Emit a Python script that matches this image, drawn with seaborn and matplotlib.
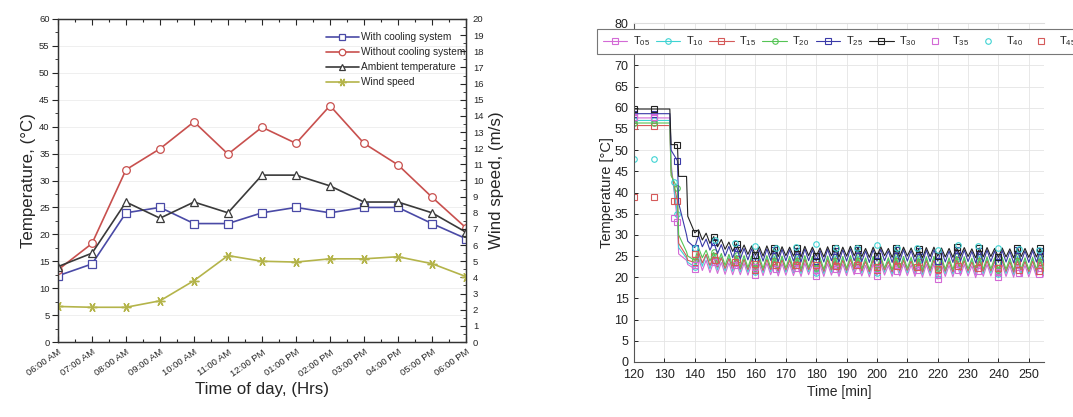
import numpy as np
import matplotlib
matplotlib.use("Agg")
import matplotlib.pyplot as plt
import seaborn as sns
from matplotlib.ticker import MultipleLocator

# ---------------- left panel data ----------------
times = ['06:00 AM', '07:00 AM', '08:00 AM', '09:00 AM', '10:00 AM', '11:00 AM', '12:00 PM',
         '01:00 PM', '02:00 PM', '03:00 PM', '04:00 PM', '05:00 PM', '06:00 PM']
with_cooling = [12.3, 14.5, 24.0, 25.0, 22.0, 22.0, 24.0, 25.0, 24.0, 25.0, 25.0, 22.0, 19.2]
without_cooling = [13.4, 18.3, 32.0, 35.9, 40.9, 34.9, 39.9, 36.9, 43.9, 36.9, 32.9, 26.9, 21.2]
ambient = [14.0, 16.5, 26.0, 23.0, 26.0, 24.0, 31.0, 31.0, 29.0, 26.0, 26.0, 24.0, 20.4]
wind = [2.2, 2.15, 2.15, 2.55, 3.8, 5.35, 5.0, 4.95, 5.15, 5.15, 5.28, 4.85, 4.05]

# ---------------- right panel data ----------------
t_start = [120.0, 126.7, 131.8, 132.2, 134.3, 134.7, 137.3, 137.7, 140.0]
T30_start = [59.7, 59.7, 59.7, 51.3, 51.3, 43.8, 43.8, 34.4, 30.5]
T25_start = [58.6, 58.6, 58.6, 50.0, 47.5, 37.5, 30.0, 28.5, 27.0]
T05_start = [57.6, 57.6, 57.6, 47.0, 33.0, 25.5, 24.0, 23.0, 22.0]
T10_start = [57.0, 57.0, 57.0, 46.0, 35.0, 27.0, 24.5, 23.5, 22.5]
T20_start = [56.4, 56.4, 56.4, 44.0, 41.0, 30.0, 26.0, 25.0, 24.0]
T15_start = [55.8, 55.8, 55.8, 45.0, 38.0, 28.0, 25.0, 24.0, 23.5]

# oscillation peaks / troughs (every 2.5 min, from 141.25 min)
T30_pk = [31.2, 30.4, 29.6, 28.9, 28.3, 27.9, 27.6, 27.4, 27.2, 27.4,
          27.0, 27.2, 27.1, 26.9, 27.3, 27.1, 26.9, 27.2, 26.9, 27.1,
          27.3, 27.0, 26.8, 27.1, 27.2, 26.8, 27.0, 27.1, 26.9, 26.7,
          27.0, 27.1, 26.9, 26.8, 27.1, 27.0, 26.7, 26.9, 27.0, 26.8,
          26.9, 26.7, 27.0, 26.8, 26.9, 26.8]
T30_tr = [28.8, 28.0, 27.2, 26.6, 26.1, 25.7, 25.4, 25.2, 25.0, 25.2,
          24.9, 25.1, 25.0, 24.8, 25.1, 25.0, 24.8, 25.1, 24.8, 25.0,
          25.1, 24.9, 24.7, 25.0, 25.1, 24.7, 24.9, 25.0, 24.8, 24.6,
          24.9, 25.0, 24.8, 24.7, 25.0, 24.9, 24.6, 24.8, 24.9, 24.7,
          24.8, 24.6, 24.9, 24.7, 24.8, 24.7]
T25_pk = [29.8, 29.0, 28.3, 27.7, 27.3, 27.0, 26.8, 26.7, 26.5, 26.7,
          26.4, 26.6, 26.5, 26.3, 26.7, 26.5, 26.3, 26.6, 26.3, 26.5,
          26.7, 26.4, 26.2, 26.5, 26.6, 26.2, 26.4, 26.5, 26.3, 26.1,
          26.4, 26.5, 26.3, 26.2, 26.5, 26.4, 26.1, 26.3, 26.4, 26.2,
          26.3, 26.1, 26.4, 26.2, 26.3, 26.2]
T25_tr = [27.2, 26.4, 25.6, 25.0, 24.6, 24.3, 24.1, 23.9, 23.8, 24.0,
          23.7, 23.9, 23.8, 23.6, 23.9, 23.8, 23.6, 23.9, 23.6, 23.8,
          23.9, 23.7, 23.5, 23.8, 23.9, 23.5, 23.7, 23.8, 23.6, 23.4,
          23.7, 23.8, 23.6, 23.5, 23.8, 23.7, 23.4, 23.6, 23.7, 23.5,
          23.6, 23.4, 23.7, 23.5, 23.6, 23.5]
T20_pk = [27.0, 26.4, 25.9, 25.6, 25.4, 25.2, 25.1, 25.0, 24.9, 25.1,
          24.8, 25.0, 24.9, 24.7, 25.1, 24.9, 24.7, 25.0, 24.7, 24.9,
          25.1, 24.8, 24.6, 24.9, 25.0, 24.6, 24.8, 24.9, 24.7, 24.5,
          24.8, 24.9, 24.7, 24.6, 24.9, 24.8, 24.5, 24.7, 24.8, 24.6,
          24.7, 24.5, 24.8, 24.6, 24.7, 24.6]
T20_tr = [24.6, 23.8, 23.2, 22.8, 22.6, 22.4, 22.3, 22.2, 22.1, 22.3,
          22.0, 22.2, 22.1, 21.9, 22.3, 22.1, 21.9, 22.2, 21.9, 22.1,
          22.3, 22.0, 21.8, 22.1, 22.2, 21.8, 22.0, 22.1, 21.9, 21.7,
          22.0, 22.1, 21.9, 21.8, 22.1, 22.0, 21.7, 21.9, 22.0, 21.8,
          21.9, 21.7, 22.0, 21.8, 21.9, 21.8]
T10_pk = [25.8, 25.3, 25.0, 24.8, 24.7, 24.6, 24.5, 24.6, 24.4, 24.6,
          24.3, 24.5, 24.4, 24.2, 24.6, 24.4, 24.2, 24.5, 24.2, 24.4,
          24.6, 24.3, 24.1, 24.4, 24.5, 24.1, 24.3, 24.4, 24.2, 24.0,
          24.3, 24.4, 24.2, 24.1, 24.4, 24.3, 24.0, 24.2, 24.3, 24.1,
          24.2, 24.0, 24.3, 24.1, 24.2, 24.1]
T10_tr = [22.6, 22.0, 21.7, 21.5, 21.4, 21.3, 21.2, 21.3, 21.1, 21.3,
          21.0, 21.2, 21.1, 20.9, 21.3, 21.1, 20.9, 21.2, 20.9, 21.1,
          21.3, 21.0, 20.8, 21.1, 21.2, 20.8, 21.0, 21.1, 20.9, 20.7,
          21.0, 20.5, 20.9, 20.8, 21.1, 21.0, 20.7, 20.9, 21.0, 20.8,
          20.9, 20.7, 21.0, 20.8, 20.9, 20.8]
T15_pk = [26.0, 25.4, 24.9, 24.6, 24.4, 24.3, 24.2, 24.1, 24.0, 24.2,
          23.9, 24.1, 24.0, 23.8, 24.2, 24.0, 23.8, 24.1, 23.8, 24.0,
          24.2, 23.9, 23.7, 24.0, 24.1, 23.7, 23.9, 24.0, 23.8, 23.6,
          23.9, 24.0, 23.8, 23.7, 24.0, 23.9, 23.6, 23.8, 23.9, 23.7,
          23.8, 23.6, 23.9, 23.7, 23.8, 23.7]
T15_tr = [23.4, 22.8, 22.4, 22.1, 22.0, 21.9, 21.8, 21.7, 21.6, 21.8,
          21.5, 21.7, 21.6, 21.4, 21.8, 21.6, 21.4, 21.7, 21.4, 21.6,
          21.8, 21.5, 21.3, 21.6, 21.7, 21.3, 21.5, 21.6, 21.4, 21.2,
          21.5, 21.6, 21.4, 21.3, 21.6, 21.5, 21.2, 21.4, 21.5, 21.3,
          21.4, 21.2, 21.5, 21.3, 21.4, 21.3]
T05_pk = [24.6, 24.0, 23.7, 23.5, 23.4, 23.3, 23.3, 23.2, 23.1, 23.3,
          23.0, 23.2, 23.1, 22.9, 23.3, 23.1, 22.9, 23.2, 22.9, 23.1,
          23.3, 23.0, 22.8, 23.1, 23.2, 22.8, 23.0, 23.1, 22.9, 22.7,
          23.0, 23.1, 22.9, 22.8, 23.1, 23.0, 22.7, 22.9, 23.0, 22.8,
          22.9, 22.7, 23.0, 22.8, 22.9, 22.8]
T05_tr = [21.6, 21.1, 20.9, 20.7, 20.6, 20.6, 20.5, 20.6, 20.4, 20.6,
          20.3, 20.5, 20.4, 20.2, 20.6, 20.4, 20.2, 20.5, 20.2, 20.4,
          20.6, 20.3, 20.1, 20.4, 20.5, 20.2, 20.3, 20.4, 20.2, 20.0,
          20.3, 19.6, 20.2, 20.1, 20.4, 20.3, 19.9, 20.2, 20.3, 20.1,
          20.2, 20.0, 20.3, 20.1, 20.2, 20.1]

# marker-only series (read at marker instants, every 20/3 min from 120)
T35_marks = [57.8, 57.8, 34.0, 23.0, 23.5, 22.8, 22.5, 22.0, 22.3, 21.8, 22.0,
             21.6, 21.9, 21.5, 21.8, 20.5, 21.6, 21.4, 21.2, 21.0, 20.8]
T40_marks = [47.8, 47.8, 42.5, 27.0, 28.8, 28.0, 27.3, 27.0, 27.2, 27.8, 27.0,
             26.8, 27.6, 26.9, 27.0, 26.5, 27.6, 27.3, 26.8, 26.6, 26.5]
T45_marks = [39.0, 39.0, 38.0, 25.5, 24.0, 23.5, 23.2, 23.0, 22.8, 23.0, 22.6,
             22.8, 22.5, 22.7, 22.4, 22.0, 22.6, 22.3, 22.1, 21.8, 21.5]

# ---------------- style ----------------
sns.set_style("ticks")
plt.rcParams['font.family'] = ['Liberation Sans', 'DejaVu Sans']
plt.rcParams['mathtext.fontset'] = 'custom'
plt.rcParams['mathtext.rm'] = 'Liberation Sans'
plt.rcParams['mathtext.it'] = 'Liberation Sans:italic'

fig = plt.figure(figsize=(10.73, 4.17), dpi=100)

# ================= LEFT PANEL =================
axL = fig.add_axes([58 / 1073, 1 - 342 / 417, 408 / 1073, 323 / 417])
axR = axL.twinx()
xpos = np.arange(len(times))

c_blue, c_red, c_dark, c_wind = '#4a4aa6', '#c8504e', '#3a3a3a', '#b4b44a'
common = dict(estimator=None, sort=False, lw=1.2, ms=5.5, mfc='white', mew=0.9)
sns.lineplot(x=xpos, y=with_cooling, ax=axL, color=c_blue, marker='s', mec=c_blue,
             label='With cooling system', **common)
sns.lineplot(x=xpos, y=without_cooling, ax=axL, color=c_red, marker='o', mec=c_red,
             label='Without cooling system', **common)
sns.lineplot(x=xpos, y=ambient, ax=axL, color=c_dark, marker='^', mec=c_dark,
             label='Ambient temperature', **common)
sns.lineplot(x=xpos, y=wind, ax=axR, color=c_wind, marker=(6, 2, 90), mec=c_wind,
             label='Wind speed', estimator=None, sort=False, lw=1.2, ms=7, mew=1.0)

axL.set_xlim(0, len(times) - 1)
axL.set_ylim(0, 60)
axR.set_ylim(0, 20)
axL.yaxis.set_major_locator(MultipleLocator(5))
axL.yaxis.set_minor_locator(MultipleLocator(2.5))
axR.yaxis.set_major_locator(MultipleLocator(1))
axR.yaxis.set_minor_locator(MultipleLocator(0.5))
axL.set_xticks(xpos)
axL.set_xticks(xpos[:-1] + 0.5, minor=True)
axL.set_xticklabels(times, rotation=35, ha='right', rotation_mode='anchor', fontsize=6.8)
axL.tick_params(axis='y', labelsize=6.8, length=4, width=0.8, pad=2)
axL.tick_params(axis='y', which='minor', length=2.5, width=0.6)
axL.tick_params(axis='x', which='both', top=True, direction='in', length=4, width=0.8, pad=4)
axL.tick_params(axis='x', which='minor', length=2.5)
axR.tick_params(axis='y', labelsize=6.8, length=4, width=0.8, pad=5, direction='in')
axR.tick_params(axis='y', which='minor', length=2.5, width=0.6, direction='in')
for a in (axL, axR):
    for s in a.spines.values():
        s.set_color('#333333')
        s.set_linewidth(0.9)
axL.grid(axis='y', color='#ededed', lw=0.6)
axL.set_axisbelow(True)
axL.set_ylabel('Temperature, (\u00b0C)', fontsize=12.2, labelpad=2)
axR.set_ylabel('Wind speed, (m/s)', fontsize=12.2, labelpad=4)
axL.set_xlabel('Time of day, (Hrs)', fontsize=12.2, labelpad=3)

hL, lL = axL.get_legend_handles_labels()
hR, lR = axR.get_legend_handles_labels()
if axL.get_legend() is not None:
    axL.get_legend().remove()
if axR.get_legend() is not None:
    axR.get_legend().remove()
axR.legend(hL + hR, lL + lR, loc='upper left', bbox_to_anchor=(319 / 1073, 1 - 25 / 417),
           bbox_transform=fig.transFigure, frameon=False, fontsize=7.3, handlelength=3.2,
           handletextpad=0.2, labelspacing=0.5, borderpad=0.2, markerscale=0.85)

# ================= RIGHT PANEL =================
ax2 = fig.add_axes([634 / 1073, 1 - 362 / 417, 410 / 1073, 339 / 417])

n_osc = 2 * len(T30_pk)
t_osc = [141.25 + 1.25 * i for i in range(n_osc)]
t_all = np.array(t_start + t_osc)
mark_t = [120 + 20 / 3 * k for k in range(len(T35_marks))]
mark_idx = [int(np.argmin(np.abs(t_all - m))) for m in mark_t]


def series(start, pk, tr):
    osc = np.column_stack([pk, tr]).ravel().tolist()
    return np.array(start + osc)


line_series = [
    ('T$_{\\mathrm{05}}$', series(T05_start, T05_pk, T05_tr), '#d36ad6', 's'),
    ('T$_{\\mathrm{10}}$', series(T10_start, T10_pk, T10_tr), '#3fd3d3', 'o'),
    ('T$_{\\mathrm{15}}$', series(T15_start, T15_pk, T15_tr), '#d55a5a', 's'),
    ('T$_{\\mathrm{20}}$', series(T20_start, T20_pk, T20_tr), '#55c455', 'o'),
    ('T$_{\\mathrm{25}}$', series(T25_start, T25_pk, T25_tr), '#3a3aa8', 's'),
    ('T$_{\\mathrm{30}}$', series(T30_start, T30_pk, T30_tr), '#222222', 's'),
]
for lab, vals, col, mk in line_series:
    sns.lineplot(x=t_all, y=vals, ax=ax2, color=col, lw=0.8, marker=mk, markevery=mark_idx,
                 ms=4, mfc='none', mec=col, mew=0.8, estimator=None, sort=False, label=lab)

marker_series = [
    ('T$_{\\mathrm{35}}$', T35_marks, '#d36ad6', 's'),
    ('T$_{\\mathrm{40}}$', T40_marks, '#3fd3d3', 'o'),
    ('T$_{\\mathrm{45}}$', T45_marks, '#d55a5a', 's'),
]
for lab, vals, col, mk in marker_series:
    sns.lineplot(x=mark_t, y=vals, ax=ax2, color=col, lw=0, linestyle='none', marker=mk,
                 ms=4, mfc='none', mec=col, mew=0.8, estimator=None, sort=False, label=lab)

ax2.set_xlim(120, 255)
ax2.set_ylim(0, 80)
ax2.xaxis.set_major_locator(MultipleLocator(10))
ax2.set_yticks(np.arange(0, 81, 5))
ax2.set_yticklabels([str(v) if v != 75 else '' for v in range(0, 81, 5)])
ax2.grid(True, color='#e4e4e4', lw=0.6)
ax2.set_axisbelow(True)
ax2.tick_params(labelsize=9, direction='in', length=3, width=0.7, colors='#222222')
ax2.tick_params(axis='x', pad=5)
ax2.tick_params(axis='y', pad=4)
ax2.spines['right'].set_visible(False)
ax2.spines['top'].set_color('#dddddd')
ax2.spines['left'].set_color('#555555')
ax2.spines['bottom'].set_color('#555555')
ax2.set_xlabel('Time [min]', fontsize=10, labelpad=3)
ax2.set_ylabel('Temperature [\u00b0C]', fontsize=10.5, labelpad=0)

h2, l2 = ax2.get_legend_handles_labels()
ax2.legend(h2, l2, loc='upper left', bbox_to_anchor=(597 / 1073, 1 - 29 / 417),
           bbox_transform=fig.transFigure, ncol=9, fontsize=8, frameon=True,
           fancybox=False, edgecolor='#777777', framealpha=1, handlelength=2.2,
           handletextpad=0.5, columnspacing=0.55, borderpad=0.5, borderaxespad=0)
ax2.get_legend().get_frame().set_linewidth(0.8)

fig.savefig('out.png', dpi=100)
